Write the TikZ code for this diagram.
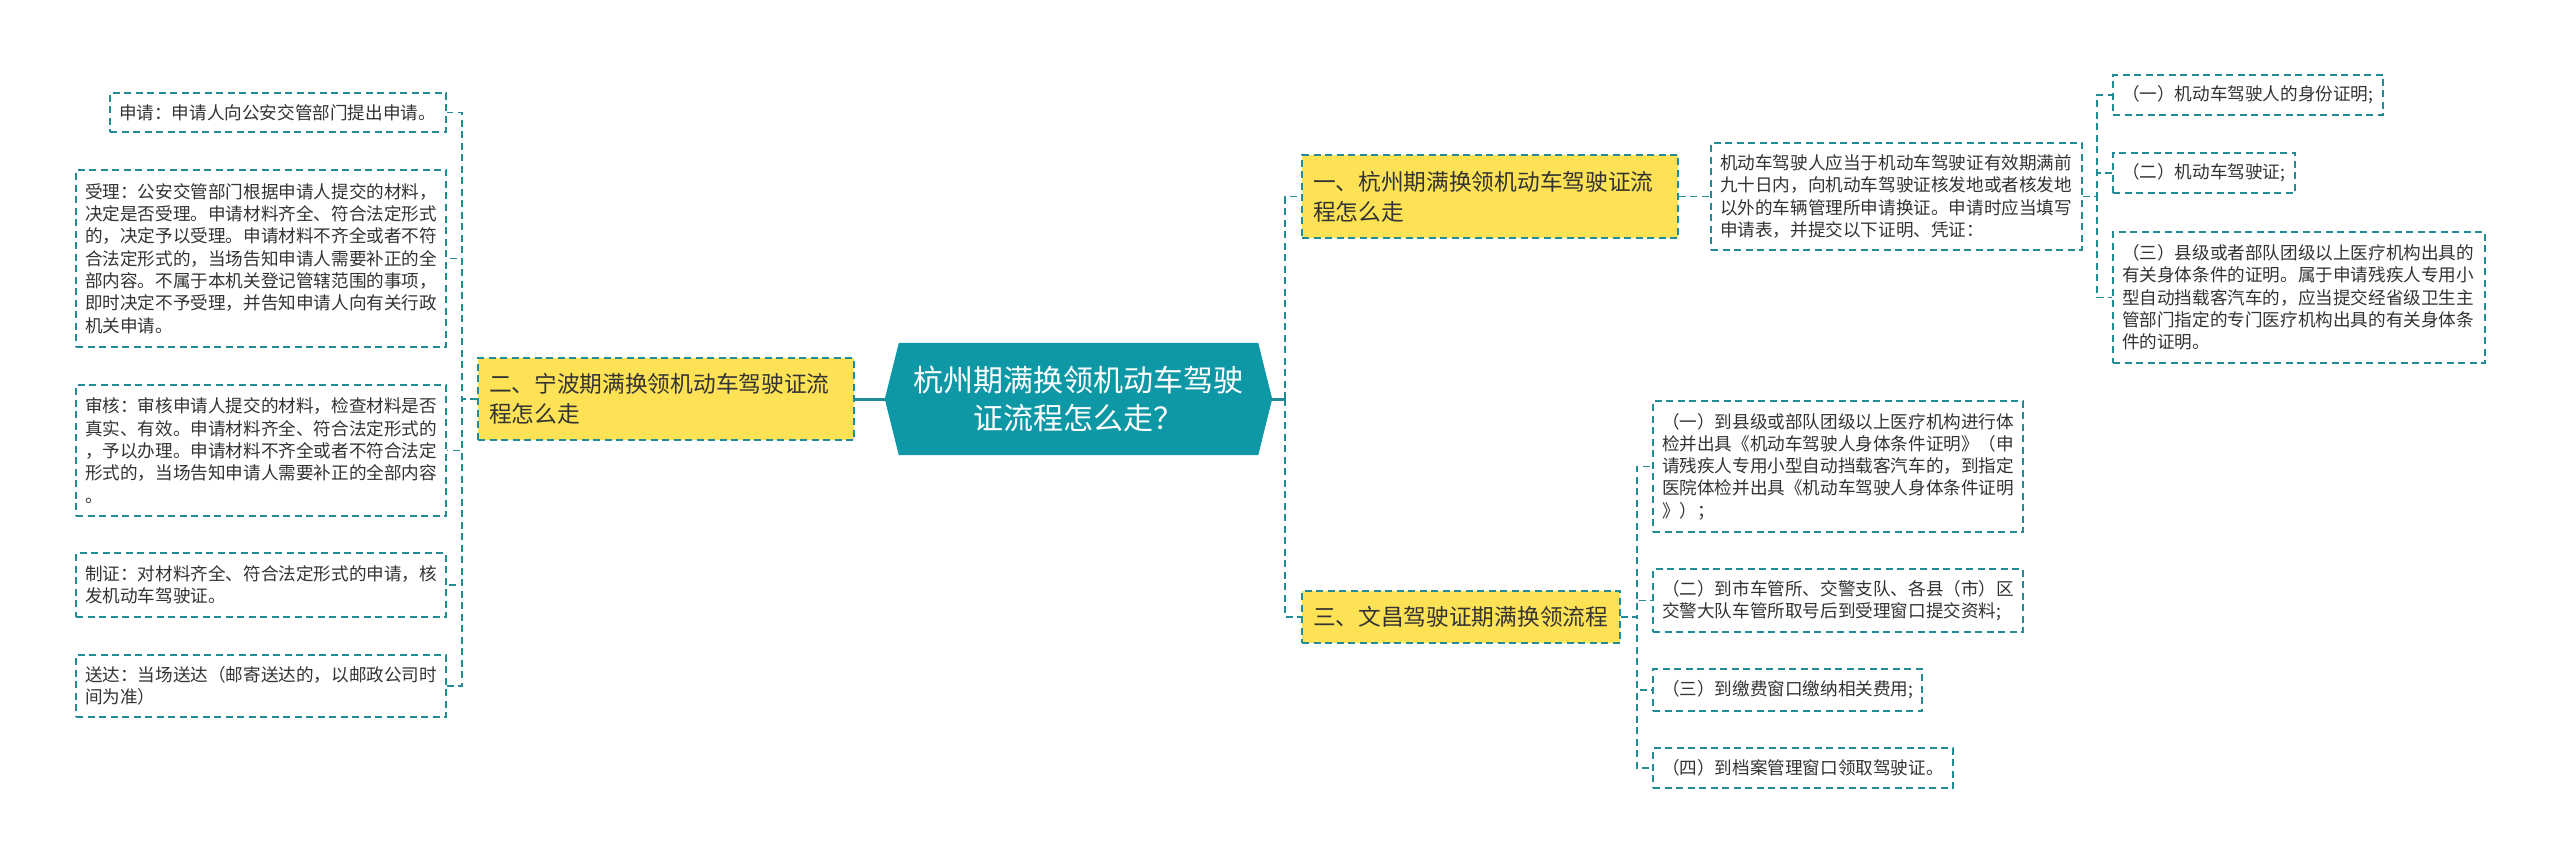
\documentclass[tikz,border=0pt]{standalone}
\usepackage{fontspec}
\setmainfont{Noto Sans CJK SC}
\usetikzlibrary{backgrounds}
\definecolor{tealc}{RGB}{34,139,150}
\definecolor{centerfill}{RGB}{14,152,166}
\definecolor{yellowc}{RGB}{253,226,85}
\definecolor{txt}{RGB}{51,51,51}
\tikzset{
  leaf/.style={draw=tealc, line width=1.6pt, dash pattern=on 7pt off 4.5pt, fill=white, text=txt, align=left, inner xsep=9pt, inner ysep=3pt, font=\fontsize{17.6}{22.3}\selectfont},
  branch/.style={draw=tealc, line width=1.6pt, dash pattern=on 7pt off 4.5pt, fill=yellowc, text=txt, align=left, inner xsep=11pt, inner ysep=3pt, font=\fontsize{22.7}{30}\selectfont},
  conn/.style={draw=tealc, line width=1.8pt, dash pattern=on 7pt off 4.5pt},
  trunk/.style={draw=tealc, line width=3pt},
}
\begin{document}
\begin{tikzpicture}[x=1pt,y=-1pt]
\useasboundingbox (0,0) rectangle (2560,864);
% centre
\node[font=\fontsize{30}{38}\selectfont, text=white, align=center, minimum width=387pt, minimum height=112pt, inner sep=0pt] (C) at (1078.5,399) {杭州期满换领机动车驾驶\\证流程怎么走？};
\begin{scope}[on background layer]
\fill[centerfill] ([xshift=14pt]C.north west) -- ([xshift=-14pt]C.north east) -- (C.east) -- ([xshift=-14pt]C.south east) -- ([xshift=14pt]C.south west) -- (C.west) -- cycle;
\end{scope}
% left branch
\node[branch, text width=354pt, minimum height=82pt] (B2) at (666,399) {二、宁波期满换领机动车驾驶证流\\程怎么走};
\node[leaf, text width=318pt, minimum height=39pt] (L1) at (278,112.5) {申请：申请人向公安交管部门提出申请。};
\node[leaf, text width=352pt, minimum height=177pt] (L2) at (261,258.5) {受理：公安交管部门根据申请人提交的材料，\\决定是否受理。申请材料齐全、符合法定形式\\的，决定予以受理。申请材料不齐全或者不符\\合法定形式的，当场告知申请人需要补正的全\\部内容。不属于本机关登记管辖范围的事项，\\即时决定不予受理，并告知申请人向有关行政\\机关申请。};
\node[leaf, text width=352pt, minimum height=131pt] (L3) at (261,450.5) {审核：审核申请人提交的材料，检查材料是否\\真实、有效。申请材料齐全、符合法定形式的\\，予以办理。申请材料不齐全或者不符合法定\\形式的，当场告知申请人需要补正的全部内容\\。};
\node[leaf, text width=352pt, minimum height=64pt] (L4) at (261,585) {制证：对材料齐全、符合法定形式的申请，核\\发机动车驾驶证。};
\node[leaf, text width=352pt, minimum height=62pt] (L5) at (261,686) {送达：当场送达（邮寄送达的，以邮政公司时\\间为准）};
% right branch 1
\node[branch, text width=354pt, minimum height=83pt] (B1) at (1490,196.5) {一、杭州期满换领机动车驾驶证流\\程怎么走};
\node[leaf, text width=353pt, minimum height=107pt] (D) at (1896.5,196.5) {机动车驾驶人应当于机动车驾驶证有效期满前\\九十日内，向机动车驾驶证核发地或者核发地\\以外的车辆管理所申请换证。申请时应当填写\\申请表，并提交以下证明、凭证：};
\node[leaf, text width=252pt, minimum height=40pt] (R1) at (2248,95) {（一）机动车驾驶人的身份证明;};
\node[leaf, text width=164pt, minimum height=40pt] (R2) at (2204,173) {（二）机动车驾驶证;};
\node[leaf, text width=354pt, minimum height=131pt] (R3) at (2299,297.5) {（三）县级或者部队团级以上医疗机构出具的\\有关身体条件的证明。属于申请残疾人专用小\\型自动挡载客汽车的，应当提交经省级卫生主\\管部门指定的专门医疗机构出具的有关身体条\\件的证明。};
% right branch 3
\node[branch, text width=296pt, minimum height=52pt] (B3) at (1461,617) {三、文昌驾驶证期满换领流程};
\node[leaf, text width=352pt, minimum height=131pt] (S1) at (1838,466.5) {（一）到县级或部队团级以上医疗机构进行体\\检并出具《机动车驾驶人身体条件证明》（申\\请残疾人专用小型自动挡载客汽车的，到指定\\医院体检并出具《机动车驾驶人身体条件证明\\》）；};
\node[leaf, text width=352pt, minimum height=63pt] (S2) at (1838,600.5) {（二）到市车管所、交警支队、各县（市）区\\交警大队车管所取号后到受理窗口提交资料;};
\node[leaf, text width=251pt, minimum height=42pt] (S3) at (1787.5,690) {（三）到缴费窗口缴纳相关费用;};
\node[leaf, text width=282pt, minimum height=40pt] (S4) at (1803,768) {（四）到档案管理窗口领取驾驶证。};
% connectors
\coordinate (jl) at (462,399);
\coordinate (jr) at (1285,399);
\coordinate (jd) at (2097,196.5);
\coordinate (js) at (1637,617);
\begin{scope}[on background layer]
\draw[trunk] (C.west) -- (B2.east);
\draw[trunk] (C.east) -- (jr);
\foreach \n in {L1,L2,L3,L4,L5} \draw[conn] (B2.west) -- (jl) |- (\n.east);
\foreach \n in {B1,B3} \draw[conn] (jr) |- (\n.west);
\draw[conn] (B1.east) -- (D.west);
\foreach \n in {R1,R2,R3} \draw[conn] (D.east) -- (jd) |- (\n.west);
\foreach \n in {S1,S2,S3,S4} \draw[conn] (B3.east) -- (js) |- (\n.west);
\end{scope}
\end{tikzpicture}
\end{document}
